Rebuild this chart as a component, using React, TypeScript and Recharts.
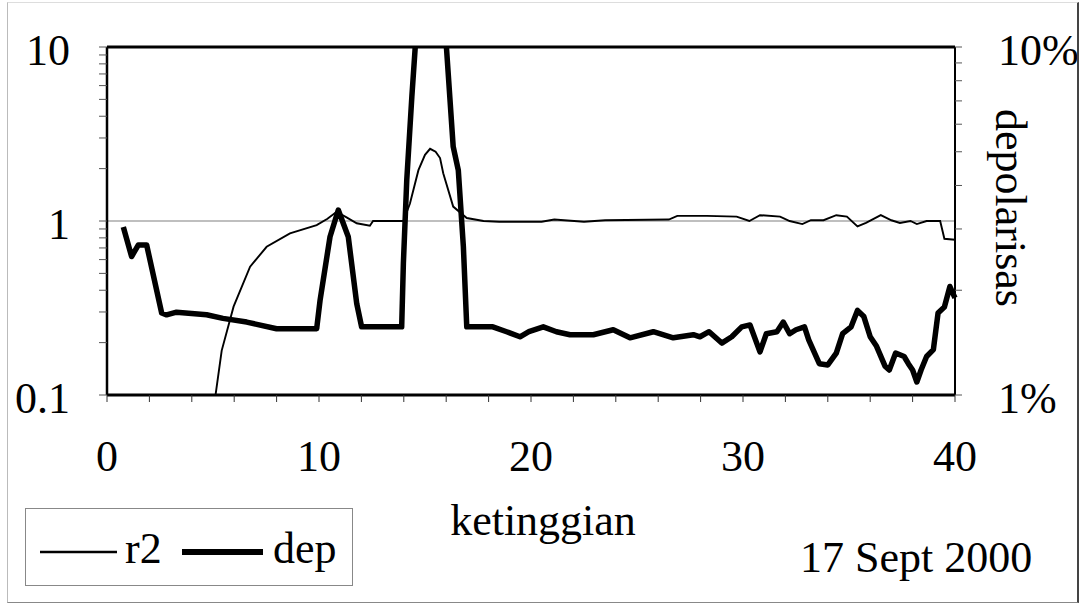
import { Label, Legend, Line, LineChart, ReferenceLine, XAxis, YAxis } from "recharts";

// ketinggian (km) vs depolarisasi (%), thick line
const depX = [
  0.77, 1.16, 1.48, 1.87, 2.58, 2.81, 3.28, 4.7, 5.47, 6.59, 8.0, 9.89, 10.05, 10.52, 10.91, 11.38, 11.78,
  12.01, 13.9, 13.98, 14.14, 14.38, 14.53, 14.8, 15.7, 16.02, 16.33, 16.57, 16.81, 16.97, 18.2, 18.85, 19.48,
  19.9, 20.58, 21.2, 21.84, 22.94, 23.88, 24.67, 25.77, 26.71, 27.66, 27.97, 28.4, 29.0, 29.47, 29.94, 30.33,
  30.8, 31.1, 31.6, 31.9, 32.2, 32.5, 32.9, 33.1, 33.6, 34.0, 34.4, 34.7, 35.1, 35.4, 35.7, 36.0, 36.3, 36.7,
  36.9, 37.2, 37.6, 37.8, 38.0, 38.2, 38.4, 38.66, 38.98, 39.2, 39.5, 39.76, 39.9, 40.0,
];
const depV = [
  3.04, 2.5, 2.7, 2.7, 1.72, 1.7, 1.73, 1.7, 1.66, 1.62, 1.55, 1.55, 1.87, 2.85, 3.4, 2.85, 1.83,
  1.57, 1.57, 2.39, 4.15, 7.2, 9.8, 20, 20, 9.8, 5.17, 4.43, 2.67, 1.57, 1.57, 1.52, 1.47,
  1.52, 1.57, 1.52, 1.49, 1.49, 1.54, 1.46, 1.52, 1.46, 1.49, 1.47, 1.52, 1.41, 1.47, 1.57, 1.59,
  1.33, 1.5, 1.52, 1.62, 1.5, 1.54, 1.57, 1.44, 1.23, 1.22, 1.32, 1.5, 1.57, 1.75, 1.68, 1.47, 1.38, 1.21,
  1.18, 1.32, 1.29, 1.23, 1.18, 1.09, 1.18, 1.29, 1.35, 1.72, 1.79, 2.05, 1.96, 1.9,
];

// r2, thin line
const r2X = [
  5.12, 5.41, 5.97, 6.75, 7.53, 8.63, 9.89, 10.4, 10.83, 11.3, 11.78, 12.4, 12.55, 13.98, 14.29, 14.69, 15.0,
  15.24, 15.5, 15.71, 15.86, 16.33, 16.97, 17.76, 18.5, 20.5, 21.1, 22.5, 23.5, 26.5, 26.9, 28.3, 29.7, 30.3,
  30.8, 31.75, 32.2, 32.8, 33.2, 33.8, 34.4, 34.9, 35.4, 35.8, 36.5, 37.0, 37.4, 37.9, 38.2, 38.66, 39.3, 39.5,
  40.0,
];
const r2V = [
  0.1, 0.18, 0.322, 0.546, 0.711, 0.849, 0.948, 1.03, 1.13, 1.05, 0.97, 0.94, 1.0, 1.0, 1.26, 1.96, 2.4,
  2.6, 2.5, 2.3, 1.88, 1.21, 1.04, 1.0, 0.99, 0.99, 1.02, 0.99, 1.01, 1.02, 1.07, 1.07, 1.06, 1.0,
  1.08, 1.06, 1.0, 0.96, 1.01, 1.01, 1.08, 1.06, 0.93, 0.975, 1.08, 1.01, 0.975, 1.0, 0.96, 1.0, 1.0, 0.79,
  0.78,
];

const xTicks = [0, 2, 4, 6, 8, 10, 12, 14, 16, 18, 20, 22, 24, 26, 28, 30, 32, 34, 36, 38, 40];
const xLabels = [0, 10, 20, 30, 40];
const leftTicks = [0.1, 0.2, 0.3, 0.4, 0.5, 0.6, 0.7, 0.8, 0.9, 1, 2, 3, 4, 5, 6, 7, 8, 9, 10];
const leftLabels: Record<string, string> = { "0.1": "0.1", "1": "1", "10": "10" };
const rightTicks = [1, 2, 3, 4, 5, 6, 7, 8, 9, 10];
const rightLabels: Record<string, string> = { "1": "1%", "10": "10%" };

const seriesNames = ["r2", "dep"];
const seriesWidths = [1.9, 5.5];

const depData = depX.map((x, i) => ({ x, v: depV[i] }));
const r2Data = r2X.map((x, i) => ({ x, v: r2V[i] }));

const FONT = "Liberation Serif, DejaVu Serif, serif";
const FS = 44;
const txt = { fontFamily: FONT, fontSize: FS, fill: "#000" };

function XTick(props: any) {
  const { x, y, payload } = props;
  if (!xLabels.includes(payload.value)) return <g />;
  return (
    <text x={x} y={y} dy="0.71em" textAnchor="middle" style={txt}>
      {payload.value}
    </text>
  );
}

function LeftTick(props: any) {
  const { x, y, payload } = props;
  const t = leftLabels[String(payload.value)];
  if (!t) return <g />;
  return (
    <text x={x} y={y} dy="0.42em" textAnchor="end" style={txt}>
      {t}
    </text>
  );
}

function RightTick(props: any) {
  const { x, y, payload } = props;
  const t = rightLabels[String(payload.value)];
  if (!t) return <g />;
  return (
    <text x={x} y={y} dy="0.42em" textAnchor="start" style={txt}>
      {t}
    </text>
  );
}

function LegendBox() {
  return (
    <div style={{ width: 328, height: 78, border: "1.5px solid #888", background: "#fff", boxSizing: "border-box" }}>
      <svg width={326} height={76}>
        <line x1={14} x2={91} y1={43} y2={43} stroke="#000" strokeWidth={2.5} />
        <text x={99} y={54} style={txt}>{seriesNames[0]}</text>
        <line x1={156} x2={237} y1={43} y2={43} stroke="#000" strokeWidth={seriesWidths[1] + 0.5} />
        <text x={247} y={54} style={txt}>{seriesNames[1]}</text>
      </svg>
    </div>
  );
}

export default function App() {
  return (
    <div style={{ position: "absolute", left: 0, top: 0, width: 1086, height: 607, background: "#fff", fontFamily: FONT }}>
      <LineChart width={1086} height={607} margin={{ top: 47, right: 0, bottom: 0, left: 0 }}>
        <XAxis
          dataKey="x"
          type="number"
          domain={[0, 40]}
          ticks={xTicks}
          interval={0}
          height={212}
          tickSize={7}
          tickMargin={38}
          tick={<XTick />}
          axisLine={{ stroke: "#000", strokeWidth: 3 }}
          tickLine={{ stroke: "#333" }}
        >
          <Label
            content={(p: any) => {
              const vb = p.viewBox;
              return (
                <g>
                  <text x={vb.x + vb.width / 2 + 12} y={vb.y + 140} textAnchor="middle" style={txt}>
                    ketinggian
                  </text>
                  <text x={vb.x + 693} y={vb.y + 177} textAnchor="start" style={txt}>
                    17 Sept 2000
                  </text>
                </g>
              );
            }}
          />
        </XAxis>
        <YAxis
          yAxisId="l"
          scale="log"
          domain={[0.1, 10]}
          allowDataOverflow
          ticks={leftTicks}
          interval={0}
          width={107}
          tickSize={8}
          tickMargin={29}
          tick={<LeftTick />}
          axisLine={{ stroke: "#000", strokeWidth: 2.5 }}
          tickLine={{ stroke: "#555" }}
        />
        <YAxis
          yAxisId="r"
          orientation="right"
          scale="log"
          domain={[1, 10]}
          allowDataOverflow
          ticks={rightTicks}
          interval={0}
          width={131}
          tickSize={7}
          tickMargin={36}
          tick={<RightTick />}
          axisLine={{ stroke: "#000", strokeWidth: 2 }}
          tickLine={{ stroke: "#555" }}
        >
          <Label
            content={(p: any) => {
              const vb = p.viewBox;
              const cx = vb.x + 55;
              const cy = vb.y + vb.height / 2 - 13;
              return (
                <text
                  x={cx}
                  y={cy}
                  transform={`rotate(90, ${cx}, ${cy})`}
                  textAnchor="middle"
                  dominantBaseline="central"
                  style={txt}
                >
                  depolarisas
                </text>
              );
            }}
          />
        </YAxis>
        <ReferenceLine yAxisId="l" y={1} stroke="#aaa" strokeWidth={1.5} />
        <ReferenceLine yAxisId="l" y={10} stroke="#000" strokeWidth={3} />
        <Line
          yAxisId="l"
          data={r2Data}
          dataKey="v"
          name={seriesNames[0]}
          type="linear"
          stroke="#000"
          strokeWidth={seriesWidths[0]}
          dot={false}
          isAnimationActive={false}
        />
        <Line
          yAxisId="r"
          data={depData}
          dataKey="v"
          name={seriesNames[1]}
          type="linear"
          stroke="#000"
          strokeWidth={seriesWidths[1]}
          strokeLinejoin="round"
          dot={false}
          isAnimationActive={false}
        />
        <Legend
          layout="horizontal"
          verticalAlign="middle"
          align="center"
          content={<LegendBox />}
          wrapperStyle={{ left: 25, top: 508, width: 328, height: 78 }}
        />
      </LineChart>
      <div
        style={{
          position: "absolute",
          left: 7,
          top: 2,
          width: 1072,
          height: 601,
          borderLeft: "1.5px solid #bbb",
          borderTop: "1px solid #ddd",
          borderRight: "2px solid #444",
          borderBottom: "1.5px solid #888",
          boxSizing: "border-box",
          pointerEvents: "none",
        }}
      />
    </div>
  );
}
